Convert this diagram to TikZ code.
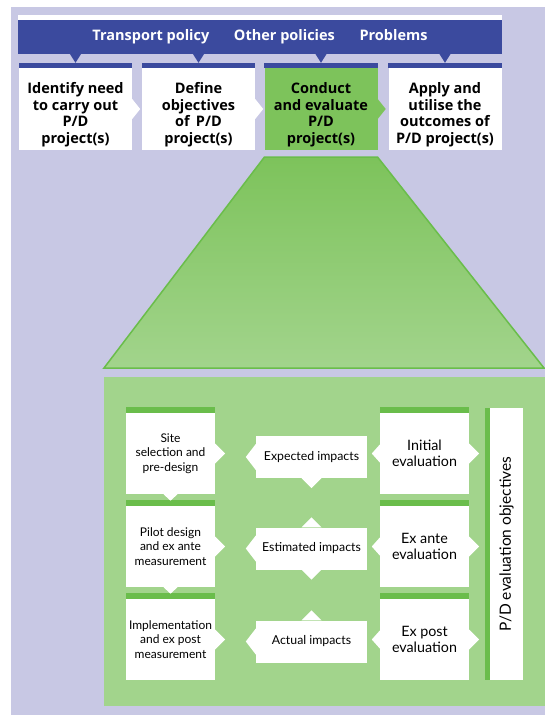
\documentclass[tikz,border=0pt]{standalone}
\usepackage{fontspec}
\setmainfont{Lato}
\newfontfamily\headfont{Open Sans}
\usepackage{tikz}
\usetikzlibrary{calc}

\definecolor{pdlav}{RGB}{200,200,228}
\definecolor{pdblue}{RGB}{59,74,158}
\definecolor{gbox}{RGB}{125,195,91}
\definecolor{gpanel}{RGB}{162,212,140}
\definecolor{gline}{RGB}{106,189,75}

\tikzset{
  topbox/.style={fill=white,minimum width=113pt,minimum height=82pt,inner sep=0pt},
  toptext/.style={align=center,inner sep=0pt,font=\headfont\bfseries\fontsize{14.5}{16.5}\selectfont},
  stagebox/.style={fill=white,minimum width=89pt,minimum height=81pt,inner sep=0pt,
    align=center,font=\fontsize{12}{14.5}\selectfont},
  impactbox/.style={fill=white,minimum width=111pt,minimum height=42pt,inner sep=0pt,
    align=center,font=\fontsize{12.3}{14}\selectfont},
  evalbox/.style={stagebox,font=\fontsize{14.3}{15.5}\selectfont},
}

\begin{document}
\begin{tikzpicture}[x=1pt,y=-1pt]
  \useasboundingbox[fill=white] (0,0) rectangle (545,715);
  \fill[pdlav] (11,7) rectangle (545,715);

  % policy bar
  \fill[white] (18,15) rectangle (502,20);
  \node[fill=pdblue,minimum width=484pt,minimum height=34pt,inner sep=0pt,text=white,
    font=\headfont\bfseries\fontsize{14.5}{16}\selectfont] (bar) at (260,37)
    {Transport policy\hspace{1.7em}Other policies\hspace{1.7em}Problems};

  % process boxes
  \node[topbox] (tA) at (75.5,109) {};
  \node[topbox] (tB) at (198.5,109) {};
  \node[topbox,fill=gbox] (tC) at (321,109) {};
  \node[topbox] (tD) at (445,109) {};
  \node[toptext] (tAt) at ($(tA)+(0,5.5)$) {Identify need\\to carry out\\P/D\\project(s)};
  \node[toptext] (tBt) at ($(tB)+(0,5.5)$) {Define\\objectives\\of\, P/D\\project(s)};
  \node[toptext] (tCt) at ($(tC)+(0,5.5)$) {Conduct\\and evaluate\\P/D\\project(s)};
  \node[toptext] (tDt) at ($(tD)+(0,5.5)$) {Apply and\\utilise the\\outcomes of\\P/D project(s)};
  \foreach \n in {tA,tB,tC,tD} {
    \fill[pdblue] ($(\n.north west)+(0,-5)$) rectangle (\n.north east);
    \fill[pdblue] ($(\n.north)+(-6,-14.5)$) -- ($(\n.north)+(6,-14.5)$) -- ($(\n.north)+(0,-5)$) -- cycle;
  }
  \foreach \n/\c in {tA/white,tB/white,tC/gbox}
    \fill[\c] ($(\n.east)+(0,-10)$) -- ($(\n.east)+(8,0)$) -- ($(\n.east)+(0,10)$) -- cycle;

  % zoom funnel
  \shade[top color=gbox,middle color=gpanel,bottom color=gpanel,draw=gline,line width=1.5pt]
    ($(tC.south west)+(0,7)$) -- ($(tC.south east)+(0,7)$) -- (544,368) -- (104,368) -- cycle;

  % evaluation panel
  \fill[gpanel] (104,377) rectangle (545,706);

  \node[stagebox] (sA) at (170.5,453.5) {Site\\selection and\\pre-design};
  \node[stagebox] (sB) at (170.5,546.5) {Pilot design\\and ex ante\\measurement};
  \node[stagebox] (sC) at (170.5,639.5) {Implementation\\and ex post\\measurement};

  \node[impactbox] (iA) at (311.5,457) {Expected impacts};
  \node[impactbox] (iB) at (311.5,548.5) {Estimated impacts};
  \node[impactbox] (iC) at (311.5,641.5) {Actual impacts};

  \node[evalbox] (eA) at (424.5,453.5) {Initial\\evaluation};
  \node[evalbox] (eB) at (424.5,546.5) {Ex ante\\evaluation};
  \node[evalbox] (eC) at (424.5,639.5) {Ex post\\evaluation};

  \node[fill=white,minimum width=272pt,minimum height=33pt,inner sep=0pt,rotate=90,
    font=\fontsize{15.5}{18}\selectfont] (obj) at (506.5,544) {P/D evaluation objectives};
  \fill[gline] (485,408) rectangle (490,680);

  % stripes and notches
  \foreach \n in {sA,sB,sC,eA,eB,eC}
    \fill[gline] ($(\n.north west)+(0,-6)$) rectangle (\n.north east);
  \foreach \n in {sA,sB,sC,eA,eB,eC}
    \fill[white] ($(\n.east)+(0,-10)$) -- ($(\n.east)+(10,0)$) -- ($(\n.east)+(0,10)$) -- cycle;
  \foreach \n in {iA,iB,iC}
    \fill[white] ($(\n.west)+(0,-13)$) -- ($(\n.west)+(-10,0)$) -- ($(\n.west)+(0,13)$) -- cycle;
  \foreach \n in {eA,eB,eC}
    \fill[white] ($(\n.west)+(0,-9)$) -- ($(\n.west)+(-8,0)$) -- ($(\n.west)+(0,9)$) -- cycle;
  \foreach \n in {sA,sB}
    \fill[white] ($(\n.south)+(-7,0)$) -- ($(\n.south)+(0,6.5)$) -- ($(\n.south)+(7,0)$) -- cycle;
  \foreach \n in {iA,iB}
    \fill[white] ($(\n.south)+(-10,0)$) -- ($(\n.south)+(0,10)$) -- ($(\n.south)+(10,0)$) -- cycle;
  \foreach \n in {iB,iC}
    \fill[white] ($(\n.north)+(-10,0)$) -- ($(\n.north)+(0,-10)$) -- ($(\n.north)+(10,0)$) -- cycle;
\end{tikzpicture}
\end{document}
